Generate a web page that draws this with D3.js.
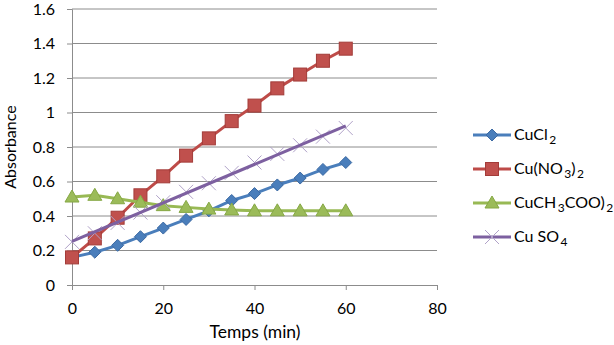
<!DOCTYPE html>
<html>
<head>
<meta charset="utf-8">
<script src="https://cdn.jsdelivr.net/npm/d3@7"></script>
<style>
  body { margin: 0; background: #fff; }
  svg text { font-family: Lato, "Liberation Sans", sans-serif; fill: #000; }
</style>
</head>
<body>
<svg id="chart" width="614" height="345"></svg>
<script>
// --- data ---
const times = [0, 5, 10, 15, 20, 25, 30, 35, 40, 45, 50, 55, 60];
const cucl2 = [0.16, 0.19, 0.23, 0.28, 0.33, 0.38, 0.43, 0.49, 0.53, 0.58, 0.62, 0.67, 0.71];
const cuNO3 = [0.16, 0.27, 0.39, 0.52, 0.63, 0.75, 0.85, 0.95, 1.04, 1.14, 1.22, 1.30, 1.37];
const cuAcetate = [0.51, 0.52, 0.50, 0.48, 0.46, 0.45, 0.44, 0.435, 0.43, 0.43, 0.43, 0.43, 0.43];
const cuSO4 = [0.25, 0.30, 0.36, 0.42, 0.48, 0.54, 0.59, 0.65, 0.71, 0.76, 0.81, 0.86, 0.91];
const xTicks = [0, 20, 40, 60, 80];
const yTicks = [0, 0.2, 0.4, 0.6, 0.8, 1, 1.2, 1.4, 1.6];

const svg = d3.select('#chart');
const x = d3.scaleLinear().domain([0, 80]).range([72, 437]);
const y = d3.scaleLinear().domain([0, 1.6]).range([285, 9]);

// ==========================================
// GRID + AXES
// ==========================================
svg.append('g')
  .selectAll('line')
  .data(yTicks.filter(d => d > 0))
  .enter()
  .append('line')
  .attr('x1', x(0)).attr('x2', x(80))
  .attr('y1', d => y(d)).attr('y2', d => y(d))
  .attr('stroke', '#8c8c8c')
  .attr('stroke-width', 1);

const yAxis = svg.append('g')
  .attr('transform', `translate(${x(0)},0)`)
  .call(d3.axisLeft(y).tickValues(yTicks).tickSize(5).tickPadding(12)
    .tickFormat(d => String(d)));
const xAxis = svg.append('g')
  .attr('transform', `translate(0,${y(0)})`)
  .call(d3.axisBottom(x).tickValues(xTicks).tickSize(5).tickPadding(13));

[yAxis, xAxis].forEach(a => {
  a.select('.domain').attr('stroke', '#8c8c8c');
  a.selectAll('.tick line').attr('stroke', '#8c8c8c');
  a.selectAll('.tick text').style('font-size', '16px').style('font-family', 'Lato, "Liberation Sans", sans-serif');
});

svg.append('text')
  .attr('x', 255).attr('y', 338)
  .attr('text-anchor', 'middle')
  .style('font-size', '17.5px')
  .text('Temps (min)');

svg.append('text')
  .attr('transform', 'translate(16,147) rotate(-90)')
  .attr('text-anchor', 'middle')
  .style('font-size', '16px')
  .text('Absorbance');

// ==========================================
// MARKERS
// ==========================================
function drawMarker(sel, kind, cx, cy, color) {
  if (kind === 'diamond') {
    sel.append('path')
      .attr('d', `M${cx},${cy - 6}L${cx + 6},${cy}L${cx},${cy + 6}L${cx - 6},${cy}Z`)
      .attr('fill', color.fill).attr('stroke', color.stroke).attr('stroke-width', 1);
  } else if (kind === 'square') {
    sel.append('rect')
      .attr('x', cx - 6.5).attr('y', cy - 6.5).attr('width', 13).attr('height', 13)
      .attr('fill', color.fill).attr('stroke', color.stroke).attr('stroke-width', 1);
  } else if (kind === 'triangle') {
    sel.append('path')
      .attr('d', `M${cx},${cy - 7}L${cx + 7},${cy + 5}L${cx - 7},${cy + 5}Z`)
      .attr('fill', color.fill).attr('stroke', color.stroke).attr('stroke-width', 1);
  } else if (kind === 'cross') {
    sel.append('path')
      .attr('d', `M${cx - 7},${cy - 7}L${cx + 7},${cy + 7}M${cx - 7},${cy + 7}L${cx + 7},${cy - 7}`)
      .attr('stroke', color.stroke).attr('stroke-width', 1).attr('fill', 'none');
  }
}

const series = [
  { name: 'CuCl2', label: ['CuCl', '2'], values: cucl2, kind: 'diamond', line: '#4a7ebb', fill: '#4a7ebb', stroke: '#3c6aa3' },
  { name: 'CuNO3', label: ['Cu(NO', '3', ')', '2'], values: cuNO3, kind: 'square', line: '#be4b48', fill: '#c0504d', stroke: '#a33c39' },
  { name: 'CuAc', label: ['CuCH', '3', 'COO)', '2'], values: cuAcetate, kind: 'triangle', line: '#98b954', fill: '#9bbb59', stroke: '#86a845' },
  { name: 'CuSO4', label: ['Cu SO', '4'], values: cuSO4, kind: 'cross', line: '#7d60a0', fill: 'none', stroke: '#b0a2c8', fit: true }
];

const line = d3.line().x(d => x(d[0])).y(d => y(d[1]));

series.forEach(s => {
  const pts = times.map((t, i) => [t, s.values[i]]);
  const g = svg.append('g');
  if (s.fit) {
    // straight least-squares line through the points
    const mx = d3.mean(times), my = d3.mean(s.values);
    const slope = d3.sum(times, (t, i) => (t - mx) * (s.values[i] - my)) / d3.sum(times, t => (t - mx) ** 2);
    const b = my - slope * mx;
    const ends = [[times[0], b + slope * times[0]], [times[times.length - 1], b + slope * times[times.length - 1]]];
    pts.forEach(p => drawMarker(g, s.kind, x(p[0]), y(p[1]), s));
    g.append('path').attr('d', line(ends)).attr('stroke', s.line).attr('stroke-width', 3).attr('fill', 'none');
  } else {
    g.append('path').attr('d', line(pts)).attr('stroke', s.line).attr('stroke-width', 3).attr('fill', 'none');
    pts.forEach(p => drawMarker(g, s.kind, x(p[0]), y(p[1]), s));
  }
});

// ==========================================
// LEGEND
// ==========================================
const legend = svg.append('g');
series.forEach((s, i) => {
  const ly = 135 + i * 34;
  legend.append('line')
    .attr('x1', 473).attr('x2', 511).attr('y1', ly).attr('y2', ly)
    .attr('stroke', s.line).attr('stroke-width', 3);
  drawMarker(legend, s.kind, 492, ly, s);
  const txt = legend.append('text')
    .attr('x', 514).attr('y', ly + 5)
    .style('font-size', '16px');
  s.label.forEach((part, j) => {
    const sub = j % 2 === 1;
    txt.append('tspan')
      .attr('dy', sub ? 4 : (j > 0 ? -4 : 0))
      .attr('dx', sub ? 1.5 : 0)
      .style('font-size', sub ? '12px' : '16px')
      .text(part);
  });
});
</script>
</body>
</html>
